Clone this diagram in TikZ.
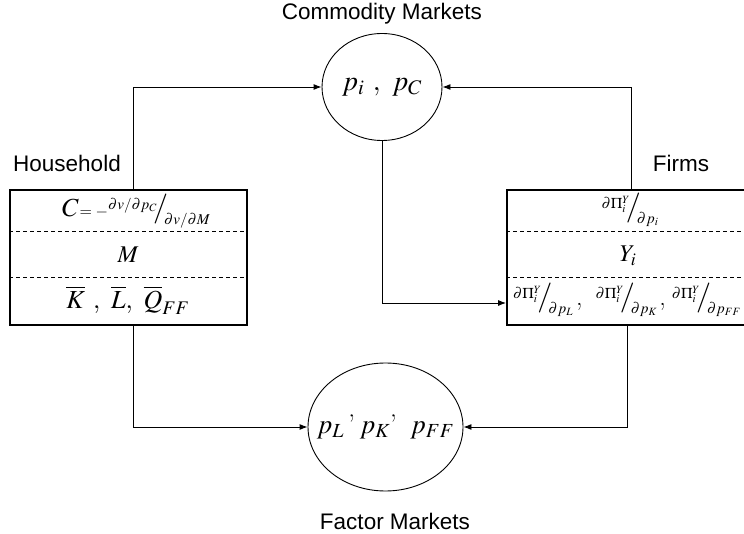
\documentclass[tikz,border=0pt]{standalone}
\usepackage{mathptmx}
\usepackage{fontspec}
\newfontfamily\lblfont{Liberation Sans}
\usetikzlibrary{shapes.geometric,arrows.meta}
\newcommand{\slfrac}[2]{\raisebox{7pt}{\fontsize{15}{15}\selectfont$#1$}\hspace{-4pt}{\fontsize{30}{30}\selectfont$/$}\hspace{-4pt}\raisebox{-8pt}{\fontsize{15}{15}\selectfont$#2$}}

\begin{document}
\begin{tikzpicture}[x=1pt, y=-1pt,
    market/.style={draw, ellipse, inner sep=0pt, line width=0.9pt},
    sector/.style={draw, rectangle, inner sep=0pt, line width=1.8pt},
    divider/.style={dashed, dash pattern=on 4pt off 3pt, line width=0.9pt},
    link/.style={line width=0.9pt, -{Latex[length=8pt,width=6pt]}},
    lbl/.style={font=\lblfont\fontsize{22.5}{26}\selectfont},
    cell/.style={inner sep=0pt, font=\fontsize{26}{30}\selectfont}]
  \useasboundingbox (0,0) rectangle (744,534);
  % markets
  \node[market, minimum width=120pt, minimum height=107pt, font=\fontsize{28}{32}\selectfont] (com) at (382,87) {\makebox[0pt]{$p_i\ ,\ p_C$}};
  \node[market, minimum width=155pt, minimum height=128pt, font=\fontsize{27}{32}\selectfont] (fac) at (385.5,427) {\makebox[0pt]{$p_L$\,’\,$p_K$’\enspace$p_{FF}$}};
  \node[lbl] (comlbl) at (382,14) {Commodity Markets};
  \node[lbl] (faclbl) at (395,521) {Factor Markets};
  % household and firms
  \node[sector, minimum width=237pt, minimum height=135pt] (hh) at (128.5,257.5) {};
  \node[sector, minimum width=240pt, minimum height=135pt] (fi) at (627,257.5) {};
  \node[lbl] (hhlbl) at (67,163) {Household};
  \node[lbl] (filbl) at (681,163) {Firms};
  \foreach \D in {42,88} {
    \draw[divider] ([yshift=-\D pt]hh.north west) -- ([yshift=-\D pt]hh.north east);
    \draw[divider] ([yshift=-\D pt]fi.north west) -- ([yshift=-\D pt]fi.north east);
  }
  \node[cell] (hhC) at (136,211) {$C$\hspace{1pt}{\fontsize{16}{16}\selectfont$=-$}\slfrac{\partial v/\partial p_C}{\partial v/\partial M}};
  \node[cell, font=\fontsize{24}{28}\selectfont] (hhM) at (128,255) {$M$};
  \node[cell] (hhK) at (128,300) {$\overline{K}\ ,\ \overline{L},\ \overline{Q}_{FF}$};
  \node[cell] (fiD) at (630,210) {\slfrac{\partial\Pi_i^Y}{\partial p_i}};
  \node[cell, font=\fontsize{24}{28}\selectfont] (fiY) at (628,256) {$Y_i$};
  \node[cell] (fiP) at (627,300) {\slfrac{\partial\Pi_i^Y}{\partial p_L}\hspace{3pt},\hspace{13pt}\slfrac{\partial\Pi_i^Y}{\partial p_K}\hspace{2pt},\hspace{6pt}\slfrac{\partial\Pi_i^Y}{\partial p_{FF}}};
  % flows
  \draw[link] ([xshift=4.5pt]hh.north) |- (com.west);
  \draw[link] ([xshift=4pt]fi.north) |- (com.east);
  \draw[link] (com.south) |- ([yshift=-45.5pt]fi.west);
  \draw[link] ([xshift=4.5pt]hh.south) |- (fac.west);
  \draw[link] (fi.south) |- (fac.east);
\end{tikzpicture}
\end{document}
